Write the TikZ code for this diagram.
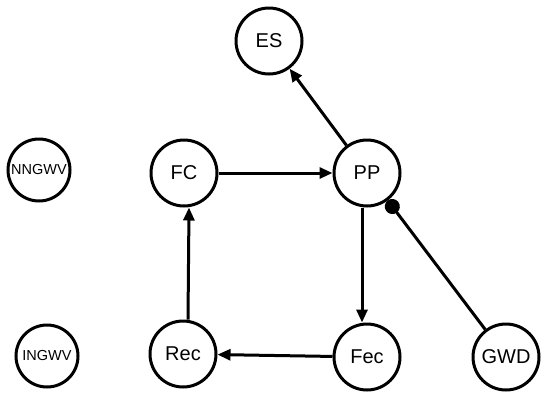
\documentclass[tikz,border=0pt]{standalone}
\usepackage{fontspec}
\setmainfont{Liberation Sans}
\usetikzlibrary{arrows.meta}
\begin{document}
\begin{tikzpicture}[x=1pt,y=-1pt,
  st/.style={circle,draw,line width=3pt,minimum size=66pt,inner sep=0pt,font=\fontsize{20}{22}\selectfont},
  sm/.style={circle,draw,line width=3pt,minimum size=62pt,inner sep=0pt,font=\fontsize{14.5}{16}\selectfont},
  ar/.style={line width=3pt,-{Triangle[length=13pt,width=11pt]}},
  dt/.style={line width=3pt,{Circle[length=15pt,width=15pt]}-}]
\useasboundingbox (0,0) rectangle (546,400);
\node[st] (ES) at (269,41) {ES};
\node[sm] (NN) at (39,170) {NNGWV};
\node[st] (FC) at (184,173) {FC};
\node[st] (PP) at (367,173) {PP};
\node[sm] (IN) at (47,356) {INGWV};
\node[st] (Rec) at (183,354) {Rec};
\node[st] (Fec) at (367,357) {Fec};
\node[st] (GWD) at (506,357) {GWD};
\draw[ar] (PP) -- (ES);
\draw[ar] (FC) -- (PP);
\draw[ar] ([xshift=-5pt]PP.south) -- ([xshift=-5pt]Fec.north);
\draw[ar] (Fec) -- (Rec);
\draw[ar] ([xshift=5pt]Rec.north) -- ([xshift=5pt]FC.south);
\draw[dt] (PP) -- (GWD);
\end{tikzpicture}
\end{document}
